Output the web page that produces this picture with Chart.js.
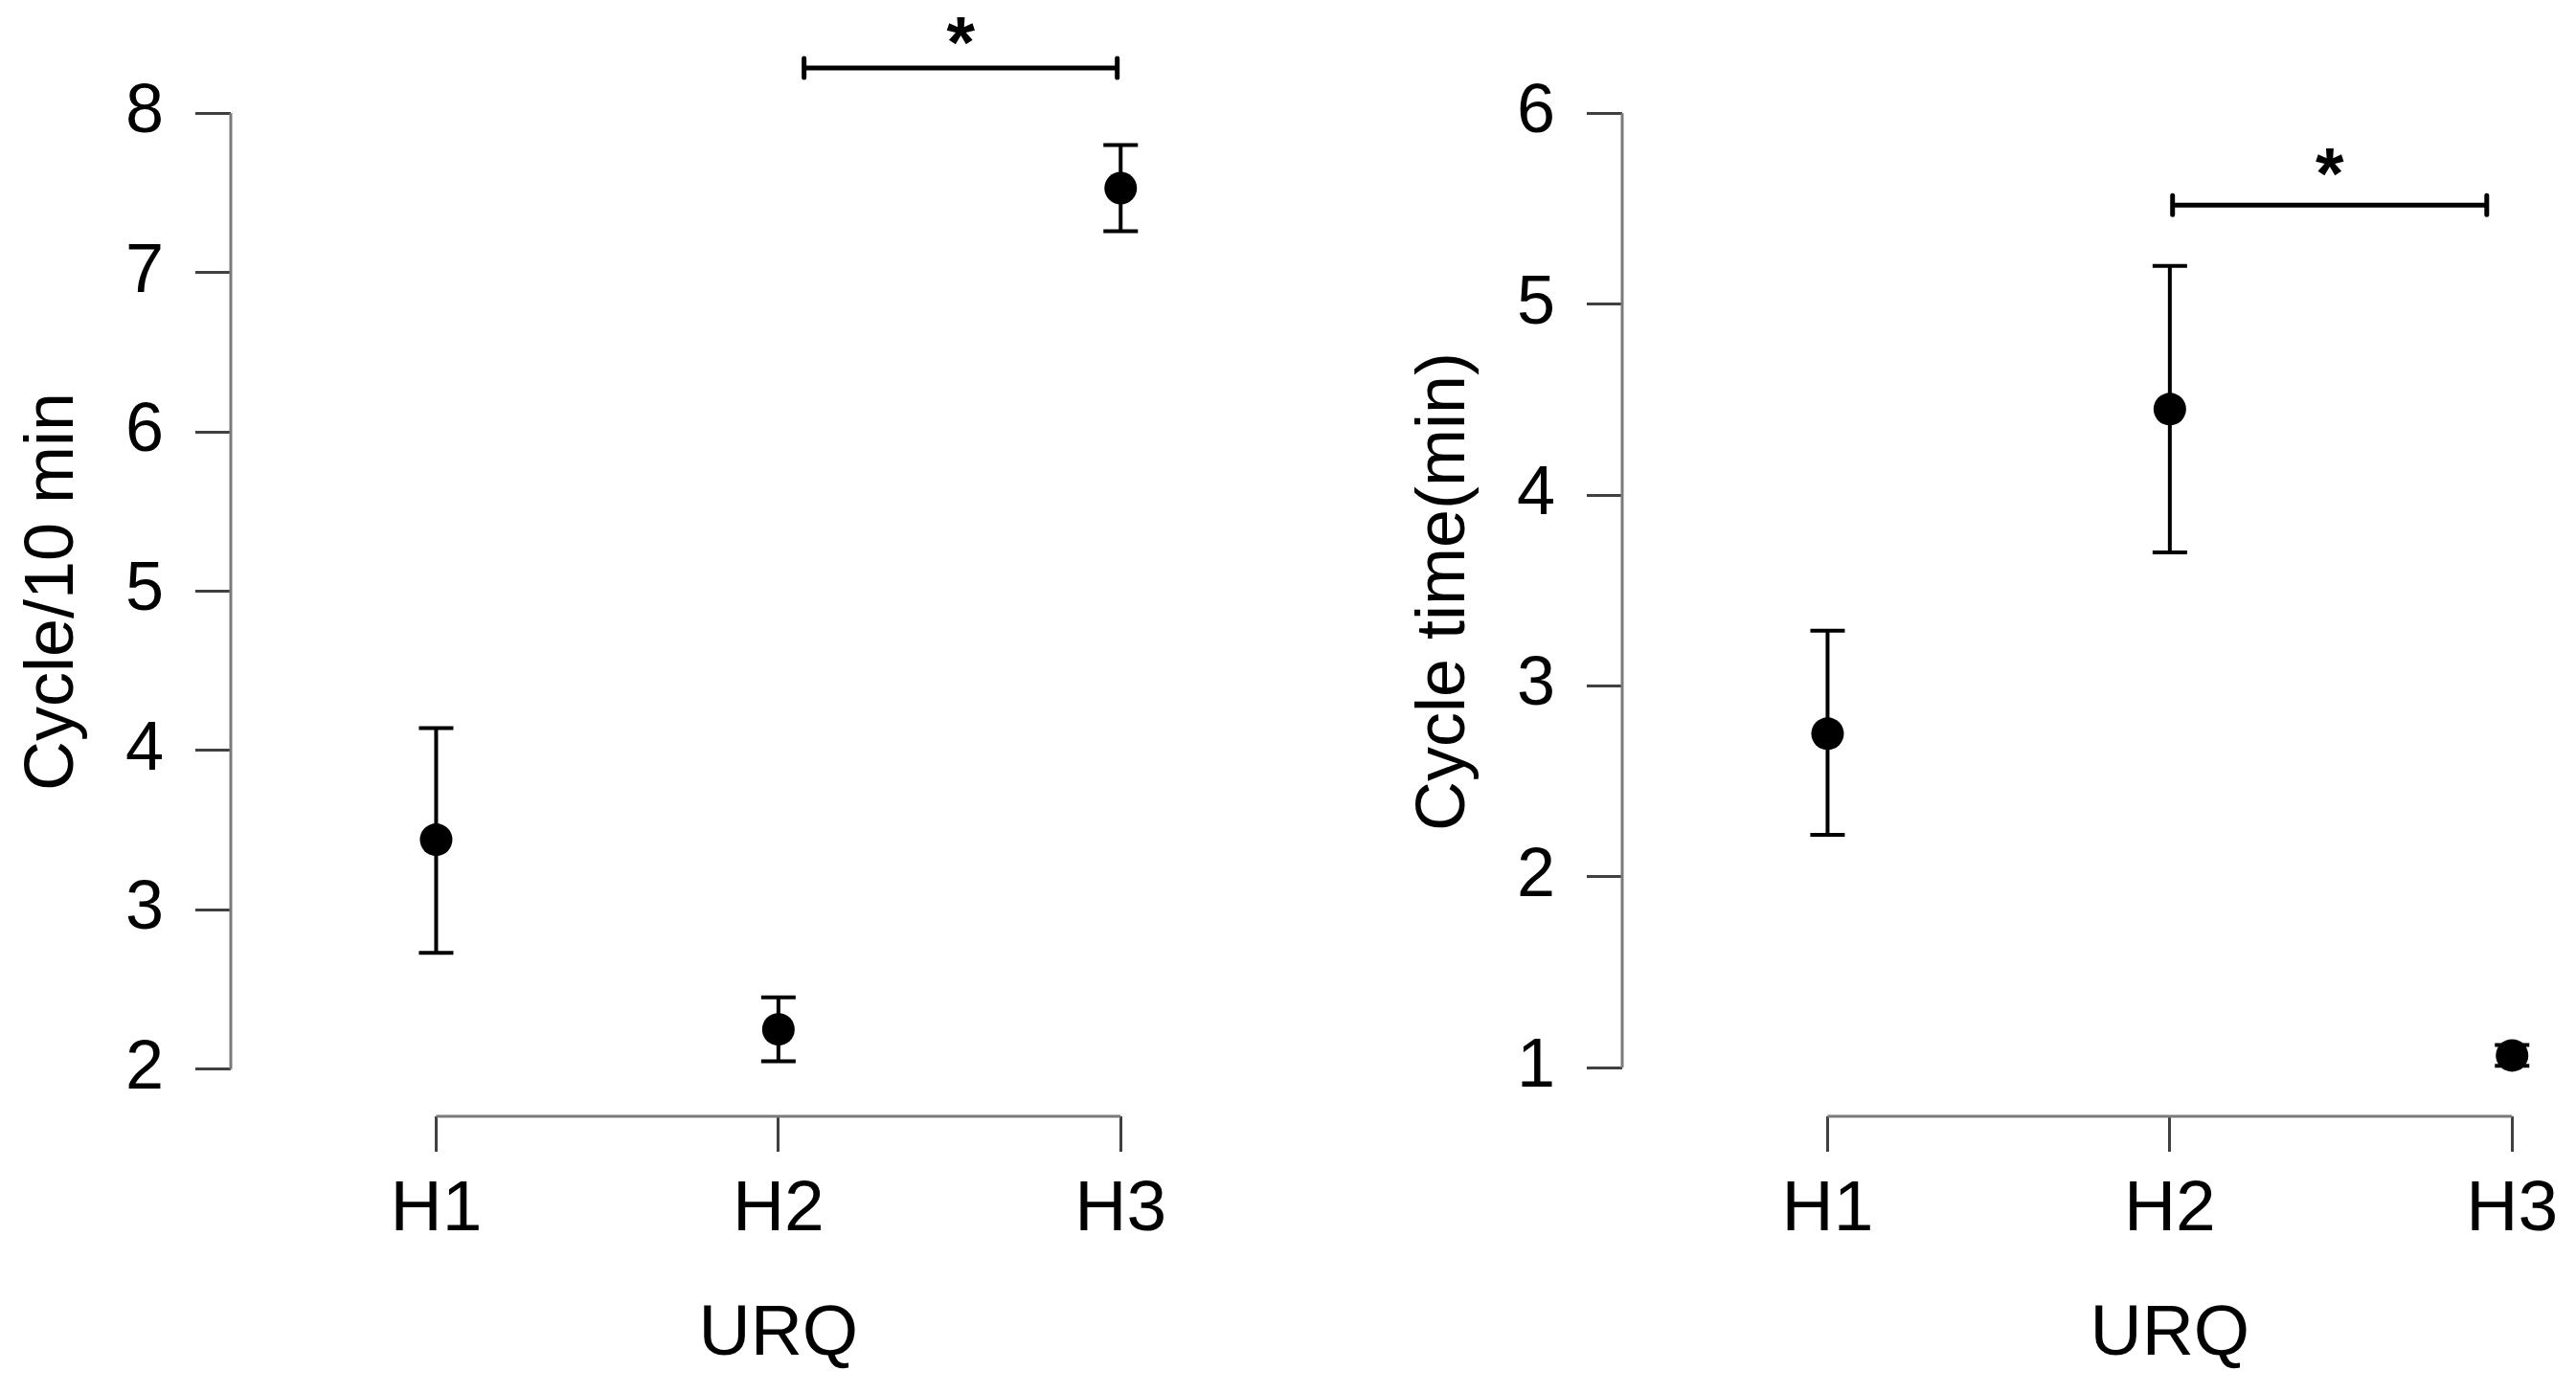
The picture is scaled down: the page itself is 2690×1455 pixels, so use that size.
<!DOCTYPE html>
<html lang="en">
<head>
    <meta charset="UTF-8">
    <title>URQ cycle plots</title>
    <style>
        body {
            margin: 0;
            background: white;
            width: 2690px;
            height: 1455px;
            position: relative;
            overflow: hidden;
        }
        .painel {
            position: absolute;
            top: 0;
            width: 1237px;
            height: 1455px;
        }
        #painelEsq { left: 0; }
        #painelDir { left: 1453px; }
    </style>
</head>
<body>
    <div class="painel" id="painelEsq"><canvas id="graficoCiclos"></canvas></div>
    <div class="painel" id="painelDir"><canvas id="graficoTempo"></canvas></div>

    <script src="https://cdn.jsdelivr.net/npm/chart.js"></script>
    <script>
        // dados
        const categories = ['H1', 'H2', 'H3'];
        const xRange = [0.4, 3.1];
        const xTitle = 'URQ';

        const cycleMean = [3.44, 2.25, 7.53];
        const cycleLow = [2.73, 2.05, 7.26];
        const cycleHigh = [4.14, 2.45, 7.80];
        const cycleTicks = [2, 3, 4, 5, 6, 7, 8];
        const cycleRange = [1.704, 8.29];
        const cycleBracket = [2.075, 2.99, 8.284, 8.525]; // x de, x ate, y, y do asterisco

        const timeMean = [2.75, 4.45, 1.065];
        const timeLow = [2.22, 3.70, 1.01];
        const timeHigh = [3.29, 5.20, 1.12];
        const timeTicks = [1, 2, 3, 4, 5, 6];
        const timeRange = [0.746, 6.242];
        const timeBracket = [2.008, 2.926, 5.519, 5.751];

        const fonte = 'Liberation Sans, Arial, sans-serif';

        // eixos no estilo R + barras de erro + colchete de significancia
        const rPlot = {
            id: 'rPlot',
            beforeDatasetsDraw(chart) {
                const ctx = chart.ctx;
                const sx = chart.scales.x, sy = chart.scales.y;
                const ext = chart.options.plugins.rPlot;
                ctx.save();
                // linhas dos eixos (so entre o primeiro e o ultimo tick)
                ctx.strokeStyle = '#7a7a7a';
                ctx.lineWidth = 3;
                ctx.beginPath();
                ctx.moveTo(sx.left, sy.getPixelForValue(ext.yTicks[0]));
                ctx.lineTo(sx.left, sy.getPixelForValue(ext.yTicks[ext.yTicks.length - 1]));
                ctx.moveTo(sx.getPixelForValue(1), sy.bottom);
                ctx.lineTo(sx.getPixelForValue(categories.length), sy.bottom);
                ctx.stroke();

                // barras de erro
                ctx.strokeStyle = 'black';
                ctx.lineWidth = 4;
                ext.low.forEach((lo, i) => {
                    const x = sx.getPixelForValue(i + 1);
                    const y1 = sy.getPixelForValue(lo);
                    const y2 = sy.getPixelForValue(ext.high[i]);
                    ctx.beginPath();
                    ctx.moveTo(x, y1); ctx.lineTo(x, y2);
                    ctx.moveTo(x - 18, y1); ctx.lineTo(x + 18, y1);
                    ctx.moveTo(x - 18, y2); ctx.lineTo(x + 18, y2);
                    ctx.stroke();
                });
                ctx.restore();
            },
            afterDraw(chart) {
                const ctx = chart.ctx;
                const sx = chart.scales.x, sy = chart.scales.y;
                const b = chart.options.plugins.rPlot.bracket;
                const x1 = sx.getPixelForValue(b[0]);
                const x2 = sx.getPixelForValue(b[1]);
                const y = sy.getPixelForValue(b[2]);
                ctx.save();
                ctx.strokeStyle = 'black';
                ctx.lineWidth = 5;
                ctx.lineCap = 'round';
                ctx.beginPath();
                ctx.moveTo(x1, y); ctx.lineTo(x2, y);
                ctx.moveTo(x1, y - 10); ctx.lineTo(x1, y + 10);
                ctx.moveTo(x2, y - 10); ctx.lineTo(x2, y + 10);
                ctx.stroke();
                ctx.fillStyle = 'black';
                ctx.font = 'bold 76px ' + fonte;
                ctx.textAlign = 'center';
                ctx.textBaseline = 'alphabetic';
                ctx.fillText('*', (x1 + x2) / 2, sy.getPixelForValue(b[3]) + 0.52 * 76);

                // titulo do eixo x centrado na categoria do meio, como no R
                ctx.font = '75px ' + fonte;
                ctx.textBaseline = 'middle';
                ctx.fillText(xTitle, sx.getPixelForValue((1 + categories.length) / 2), sx.bottom - 16 - 45);
                ctx.restore();
            }
        };

        function criarGrafico(id, titulo, mean, low, high, yTicks, yRange, bracket) {
            const ctx = document.getElementById(id).getContext('2d');
            return new Chart(ctx, {
                type: 'scatter',
                data: {
                    datasets: [{
                        data: mean.map((v, i) => ({ x: i + 1, y: v })),
                        backgroundColor: 'black',
                        borderWidth: 0,
                        pointRadius: 17,
                        pointHoverRadius: 17
                    }]
                },
                options: {
                    responsive: true,
                    maintainAspectRatio: false,
                    animation: false,
                    events: [],
                    layout: { padding: { top: 70, right: 31, bottom: 0, left: 0 } },
                    plugins: {
                        legend: { display: false },
                        tooltip: { enabled: false },
                        rPlot: { low: low, high: high, yTicks: yTicks, bracket: bracket }
                    },
                    scales: {
                        x: {
                            type: 'linear',
                            min: xRange[0],
                            max: xRange[1],
                            afterBuildTicks: s => { s.ticks = categories.map((c, i) => ({ value: i + 1 })); },
                            afterFit: s => { s.height = 289; s.paddingLeft = 0; s.paddingRight = 0; },
                            border: { display: false },
                            grid: { drawOnChartArea: false, drawTicks: true, tickLength: 37, color: '#404040', lineWidth: 3 },
                            ticks: {
                                padding: 16,
                                color: 'black',
                                maxRotation: 0,
                                font: { family: fonte, size: 75 },
                                callback: v => categories[v - 1]
                            },
                            title: { display: false }
                        },
                        y: {
                            min: yRange[0],
                            max: yRange[1],
                            afterBuildTicks: s => { s.ticks = yTicks.map(v => ({ value: v })); },
                            afterFit: s => { s.width = 241; s.paddingTop = 0; s.paddingBottom = 0; },
                            border: { display: false },
                            grid: { drawOnChartArea: false, drawTicks: true, tickLength: 37, color: '#404040', lineWidth: 3 },
                            ticks: {
                                padding: 33,
                                color: 'black',
                                font: { family: fonte, size: 72 },
                                callback: v => String(v)
                            },
                            title: {
                                display: true,
                                text: titulo,
                                color: 'black',
                                font: { family: fonte, size: 72 },
                                padding: { top: 13, bottom: 0 }
                            }
                        }
                    }
                },
                plugins: [rPlot]
            });
        }

        criarGrafico('graficoCiclos', 'Cycle/10 min', cycleMean, cycleLow, cycleHigh, cycleTicks, cycleRange, cycleBracket);
        criarGrafico('graficoTempo', 'Cycle time(min)', timeMean, timeLow, timeHigh, timeTicks, timeRange, timeBracket);
    </script>
</body>
</html>
